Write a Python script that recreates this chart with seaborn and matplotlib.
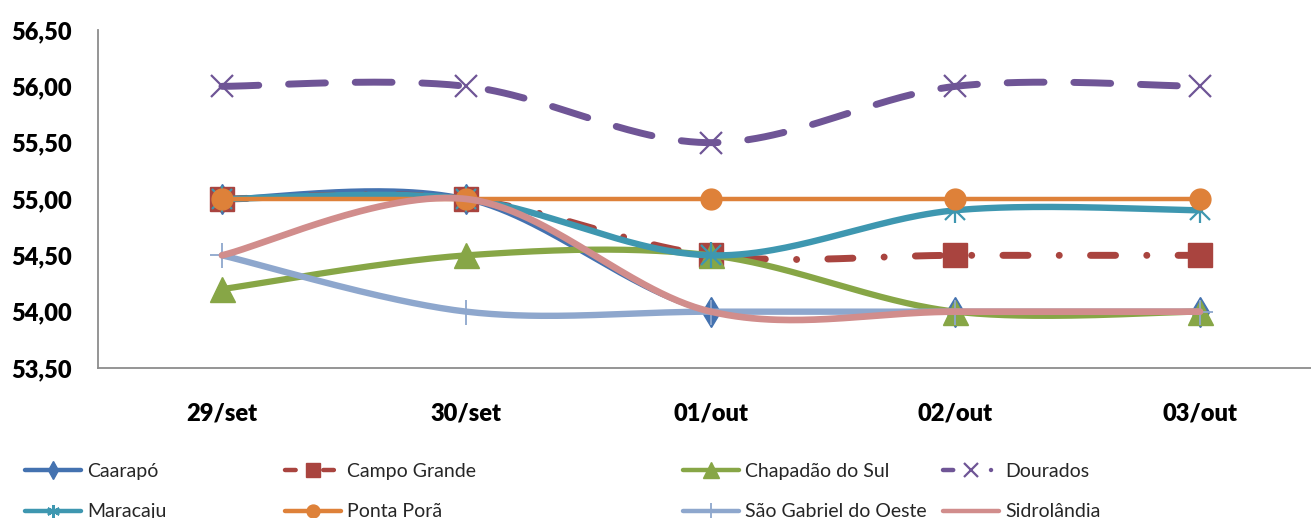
import numpy as np
import pandas as pd
import matplotlib
matplotlib.use("Agg")
import matplotlib.pyplot as plt
from matplotlib.lines import Line2D
import seaborn as sns

# ---- data ----
categories = ["29/set", "30/set", "01/out", "02/out", "03/out"]
series_names = ["Caarapó", "Campo Grande", "Chapadão do Sul", "Dourados",
                "Maracaju", "Ponta Porã", "São Gabriel do Oeste", "Sidrolândia"]
caarapo = [55.0, 55.0, 54.0, 54.0, 54.0]
campo_grande = [55.0, 55.0, 54.5, 54.5, 54.5]
chapadao = [54.2, 54.5, 54.5, 54.0, 54.0]
dourados = [56.0, 56.0, 55.5, 56.0, 56.0]
maracaju = [55.0, 55.0, 54.5, 54.9, 54.9]
ponta_pora = [55.0, 55.0, 55.0, 55.0, 55.0]
sao_gabriel = [54.5, 54.0, 54.0, 54.0, 54.0]
sidrolandia = [54.5, 55.0, 54.0, 54.0, 54.0]
y_ticks = [53.5, 54.0, 54.5, 55.0, 55.5, 56.0, 56.5]

values = [caarapo, campo_grande, chapadao, dourados, maracaju, ponta_pora, sao_gabriel, sidrolandia]

# ---- styles ----
styles = {
    "Caarapó": dict(color="#4472B0", lw=3.6, ls="-", marker="d", ms=15, mew=1),
    "Campo Grande": dict(color="#A9443F", lw=5.0, ls=(0, (3.6, 4.5, 0.01, 4.5)), marker="s", ms=17, mew=1),
    "Chapadão do Sul": dict(color="#87A646", lw=4.5, ls="-", marker="^", ms=18, mew=1),
    "Dourados": dict(color="#6F5596", lw=5.0, ls=(0, (5.3, 4.3)), marker="x", ms=16, mew=1.6),
    "Maracaju": dict(color="#3E97B0", lw=4.6, ls="-", marker="asterisk", ms=15, mew=1.6),
    "Ponta Porã": dict(color="#DE8139", lw=3.2, ls="-", marker="o", ms=15, mew=1),
    "São Gabriel do Oeste": dict(color="#8EA7CD", lw=4.6, ls="-", marker="+", ms=18, mew=1.3),
    "Sidrolândia": dict(color="#D18D8C", lw=4.8, ls="-", marker=None, ms=0, mew=0),
}


def smooth(y, n=60):
    """Excel-like Catmull-Rom/Bezier smoothing through category points."""
    y = np.asarray(y, float)
    x = np.arange(len(y), dtype=float)
    xs, ys = [], []
    for i in range(len(y) - 1):
        p0x, p0y = x[i], y[i]
        p1x, p1y = x[i + 1], y[i + 1]
        pmx, pmy = (x[i - 1], y[i - 1]) if i > 0 else (p0x, p0y)
        ppx, ppy = (x[i + 2], y[i + 2]) if i + 2 < len(y) else (p1x, p1y)
        c1x, c1y = p0x + (p1x - pmx) / 6, p0y + (p1y - pmy) / 6
        c2x, c2y = p1x - (ppx - p0x) / 6, p1y - (ppy - p0y) / 6
        t = np.linspace(0, 1, n)
        bx = (1 - t) ** 3 * p0x + 3 * (1 - t) ** 2 * t * c1x + 3 * (1 - t) * t ** 2 * c2x + t ** 3 * p1x
        by = (1 - t) ** 3 * p0y + 3 * (1 - t) ** 2 * t * c1y + 3 * (1 - t) * t ** 2 * c2y + t ** 3 * p1y
        if i > 0:
            bx, by = bx[1:], by[1:]
        xs.append(bx)
        ys.append(by)
    return np.concatenate(xs), np.concatenate(ys)


sns.set_theme(style="white")
plt.rcParams["font.family"] = ["Lato", "DejaVu Sans"]

fig = plt.figure(figsize=(13.11, 5.18), dpi=100)
ax = fig.add_axes([98 / 1311, 150 / 518, 1 - 98 / 1311, 338 / 518])

z = 2
for name, vals in zip(series_names, values):
    st = styles[name]
    sx, sy = smooth(vals)
    curve = pd.DataFrame({"x": sx, "y": sy})
    sns.lineplot(data=curve, x="x", y="y", ax=ax, color=st["color"], linewidth=st["lw"],
                 linestyle=st["ls"], sort=False, estimator=None, zorder=z,
                 dash_capstyle="round", solid_capstyle="round")
    pts = pd.DataFrame({"x": np.arange(len(vals)), "y": vals})
    if st["marker"] == "asterisk":
        for m in ["x", "|"]:
            ax.plot(pts["x"], pts["y"], ls="none", marker=m, ms=st["ms"] * (1.0 if m == "x" else 1.25),
                    mew=st["mew"], color=st["color"], zorder=z + 0.5)
    elif st["marker"] is not None:
        ax.plot(pts["x"], pts["y"], ls="none", marker=st["marker"], ms=st["ms"],
                mew=st["mew"], color=st["color"], mec=st["color"], zorder=z + 0.5)
    z += 1

ax.set_xlim(-0.507, 4.454)
ax.set_ylim(53.5, 56.5)
ax.set_xticks(range(len(categories)))
ax.set_xticklabels(categories, fontweight="heavy", fontsize=17)
ax.set_yticks(y_ticks)
ax.set_yticklabels([f"{v:.2f}".replace(".", ",") for v in y_ticks], fontweight="heavy", fontsize=17)
ax.set_xlabel("")
ax.set_ylabel("")
ax.grid(False)
ax.tick_params(axis="both", length=0, colors="black")
ax.tick_params(axis="y", pad=19)
ax.tick_params(axis="x", pad=25)
for s in ["top", "right"]:
    ax.spines[s].set_visible(False)
for s in ["left", "bottom"]:
    ax.spines[s].set_color("#8C8C8C")
    ax.spines[s].set_linewidth(1.3)


def handle(name):
    st = styles[name]
    mk = (6, 2, 0) if st["marker"] == "asterisk" else st["marker"]
    ls = st["ls"]
    if name == "Campo Grande":
        ls = (0, (2.4, 6.2))
    elif name == "Dourados":
        ls = (0, (2.3, 8.5, 0.01, 10))
    return Line2D([], [], color=st["color"], lw=3.2, ls=ls,
                  marker=mk, ms=st["ms"] * 0.62, mew=st["mew"], dash_capstyle="round")


col_x = [25, 285, 683, 943]
cols = [["Caarapó", "Maracaju"], ["Campo Grande", "Ponta Porã"],
        ["Chapadão do Sul", "São Gabriel do Oeste"], ["Dourados", "Sidrolândia"]]
for cx, names in zip(col_x, cols):
    fig.legend([handle(n) for n in names], names, loc="upper left",
               bbox_to_anchor=(cx / 1311, 1 - 463 / 518), frameon=False,
               fontsize=14, handlelength=2.9, handletextpad=0.3,
               labelspacing=1.2, borderpad=0, borderaxespad=0)

fig.savefig("out.png", dpi=100)
